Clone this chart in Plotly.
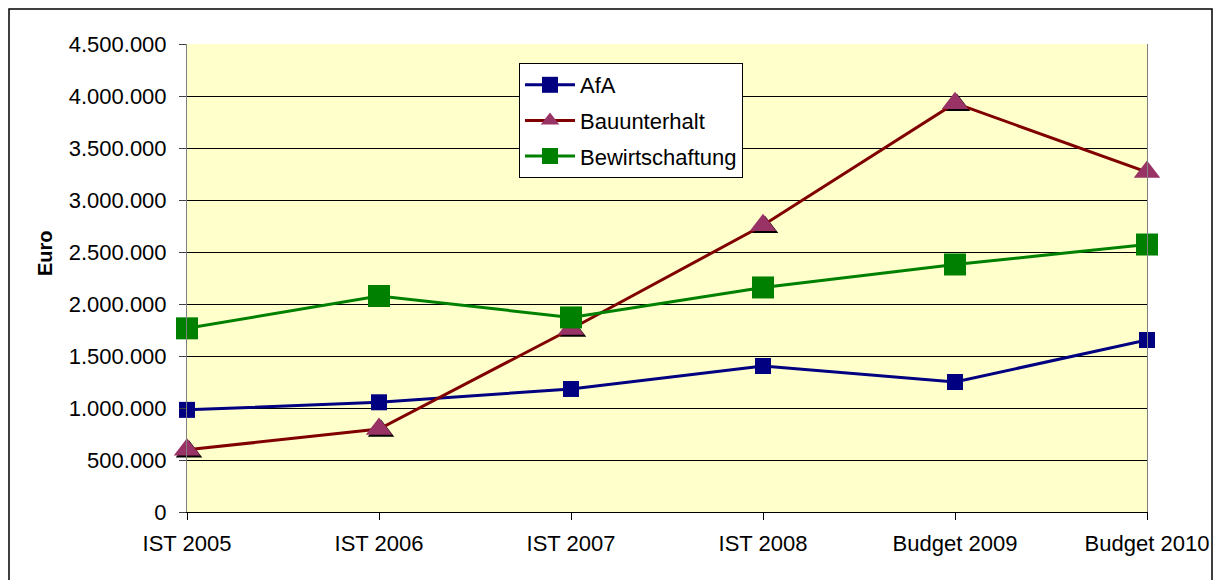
import plotly.graph_objects as go

categories = ["IST 2005", "IST 2006", "IST 2007", "IST 2008", "Budget 2009", "Budget 2010"]
afa = [982000, 1055000, 1183000, 1404000, 1250000, 1654000]
bauunterhalt = [598000, 797000, 1760000, 2757000, 3931000, 3269000]
bewirtschaftung = [1766000, 2077000, 1871000, 2159000, 2380000, 2572000]
y_ticks = [0, 500000, 1000000, 1500000, 2000000, 2500000, 3000000, 3500000, 4000000, 4500000]

xs = list(range(len(categories)))
OFF = 8  # page body margin
W, H = 1221 - OFF, 580 - OFF
# plot area in screen pixels
PX0, PX1, PY0, PY1 = 187, 1147, 44, 512
L, T = PX0 - OFF, PY0 - OFF
R, B = W - (PX1 - OFF), H - (PY1 - OFF)
pw, ph = PX1 - PX0, PY1 - PY0


def px(sx):
    return (sx - PX0) / pw


def py(sy):
    return (PY1 - sy) / ph


x_range = [0, len(categories) - 1]
y_range = [0, 4500000]
dx = 2 * (x_range[1] - x_range[0]) / pw
dy = 2 * (y_range[1] - y_range[0]) / ph

font = "Liberation Sans, Arial, sans-serif"
FS = 22

fig = go.Figure()
fig.add_trace(go.Scatter(
    x=xs, y=afa, name="AfA", mode="lines+markers", legendgroup="a",
    line=dict(color="#000080", width=3),
    marker=dict(symbol="square", size=16, color="#000080"),
    cliponaxis=False,
))
fig.add_trace(go.Scatter(
    x=[v + dx for v in xs], y=[v - dy for v in bauunterhalt], mode="markers",
    showlegend=False, hoverinfo="skip", legendgroup="b",
    marker=dict(symbol="triangle-up", size=23, color="#000000"),
    cliponaxis=False,
))
fig.add_trace(go.Scatter(
    x=xs, y=bauunterhalt, name="Bauunterhalt", mode="lines+markers", legendgroup="b",
    line=dict(color="#800000", width=3),
    marker=dict(symbol="triangle-up", size=23, color="#993366"),
    cliponaxis=False,
))
fig.add_trace(go.Scatter(
    x=xs, y=bewirtschaftung, name="Bewirtschaftung", mode="lines+markers", legendgroup="c",
    line=dict(color="#008000", width=3),
    marker=dict(symbol="square", size=22, color="#008000"),
    cliponaxis=False,
))

fig.update_layout(
    width=W, height=H,
    margin=dict(l=L, r=R, t=T, b=B),
    paper_bgcolor="white",
    plot_bgcolor="#FFFFCC",
    separators=",.",
    font=dict(family=font, size=FS, color="black"),
    showlegend=True,
    legend=dict(
        x=px(519), y=py(63), xanchor="left", yanchor="top",
        bgcolor="white", bordercolor="black", borderwidth=1,
        font=dict(family=font, size=FS, color="black"),
        tracegroupgap=4, traceorder="grouped", itemwidth=50,
    ),
    xaxis=dict(
        range=x_range, tickmode="array", tickvals=xs, ticktext=categories,
        showgrid=False, zeroline=False,
        showline=True, linecolor="#000000", linewidth=1,
        ticks="outside", ticklen=7, tickcolor="#000000",
        ticklabelstandoff=5,
        tickfont=dict(family=font, size=FS, color="black"),
    ),
    yaxis=dict(
        range=y_range, tickmode="array", tickvals=y_ticks, tickformat=",.0f",
        showgrid=True, gridcolor="#000000", gridwidth=1, zeroline=False,
        showline=True, linecolor="#808080", linewidth=1, mirror=True,
        ticks="outside", ticklen=7, tickcolor="#404040",
        ticklabelstandoff=8,
        tickfont=dict(family=font, size=FS, color="black"),
    ),
    annotations=[dict(
        text="<b>Euro</b>", xref="paper", yref="paper",
        x=px(45), y=py(253), xanchor="center", yanchor="middle",
        showarrow=False, textangle=-90,
        font=dict(family=font, size=20, color="black"),
    )],
    shapes=[dict(
        type="rect", xref="paper", yref="paper",
        x0=px(9), x1=px(1212), y0=py(600), y1=py(9),
        line=dict(color="black", width=1.5), fillcolor="rgba(0,0,0,0)", layer="below",
    )],
)

fig.write_html("out.html")
